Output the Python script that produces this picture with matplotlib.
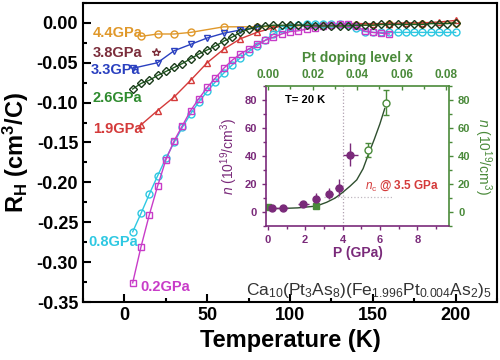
import matplotlib
matplotlib.use('Agg')
import matplotlib.pyplot as plt
from matplotlib.ticker import MultipleLocator, FormatStrFormatter

plt.rcParams['font.family'] = ['Liberation Sans', 'DejaVu Sans']
plt.rcParams['axes.unicode_minus'] = False
plt.rcParams['mathtext.fontset'] = 'custom'
plt.rcParams['mathtext.rm'] = 'Liberation Sans'
plt.rcParams['mathtext.it'] = 'Liberation Sans:italic'
plt.rcParams['mathtext.bf'] = 'Liberation Sans:bold'

# ---------------- main panel data: R_H (cm^3/C) vs T (K)
t_02 = [5, 10, 15, 20, 25, 30, 35, 40, 45, 50, 55, 60, 65, 70, 75, 80, 85, 90, 95, 100,
        105, 110, 115, 120, 125, 130, 135, 140, 145, 150, 155, 160]
r_02 = [-0.326, -0.281, -0.241, -0.205, -0.172, -0.148, -0.129, -0.110, -0.095, -0.081,
        -0.069, -0.057, -0.047, -0.039, -0.033, -0.027, -0.022, -0.018, -0.014, -0.011,
        -0.010, -0.008, -0.006, -0.004, -0.003, -0.002, -0.002, -0.004, -0.010, -0.012,
        -0.013, -0.014]

t_08 = [5, 10, 15, 20, 25, 30, 35, 40, 45, 50, 55, 60, 65, 70, 75, 80, 85, 90, 95, 100,
        105, 110, 115, 120, 125, 130, 135, 140, 145, 150, 155, 160, 165, 170, 175, 180,
        185, 190, 195, 200]
r_08 = [-0.262, -0.239, -0.215, -0.192, -0.170, -0.150, -0.131, -0.114, -0.099, -0.086,
        -0.074, -0.063, -0.053, -0.044, -0.036, -0.029, -0.022, -0.014, -0.008, -0.005,
        -0.003, -0.002, -0.001, -0.001, -0.001, -0.001, -0.003, -0.007, -0.011, -0.012,
        -0.012, -0.012, -0.012, -0.012, -0.012, -0.012, -0.012, -0.012, -0.012, -0.012]

t_19 = [10, 20, 30, 40, 50, 60, 70, 80, 90, 100, 110, 120, 130, 140, 150, 160, 170, 180, 190, 200]
r_19 = [-0.128, -0.110, -0.093, -0.072, -0.050, -0.033, -0.020, -0.012, -0.006, -0.003,
        -0.002, -0.001, -0.001, -0.001, -0.001, -0.001, 0.000, 0.000, 0.001, 0.003]

t_26 = t_08
r_26 = [-0.083, -0.076, -0.072, -0.066, -0.061, -0.056, -0.051, -0.045, -0.039, -0.034,
        -0.029, -0.023, -0.018, -0.012, -0.008, -0.005, -0.004, -0.003, -0.003, -0.003,
        -0.003, -0.003, -0.004, -0.004, -0.004, -0.004, -0.004, -0.003, -0.003, -0.003,
        -0.002, -0.002, -0.002, -0.002, -0.002, -0.002, -0.001, -0.001, -0.001, 0.000]

t_33 = [5, 20, 30, 40, 50, 60, 70, 80]
r_33 = [-0.057, -0.050, -0.035, -0.027, -0.019, -0.013, -0.009, -0.006]

t_38 = [19]
r_38 = [-0.036]

t_44 = [10, 20, 30, 40, 60, 80, 100, 120, 140, 160, 180, 200]
r_44 = [-0.017, -0.014, -0.014, -0.012, -0.005, -0.005, -0.004, -0.003, -0.003, -0.002,
        -0.001, 0.000]

# ---------------- inset data: carrier density n at T = 20 K
p_pur = [0.2, 0.8, 1.9, 2.6, 3.3, 3.8, 4.4]
n_pur = [3, 3, 5.5, 9.5, 13, 17.5, 41]
n_pur_err = [1.5, 1.5, 2, 4, 4, 6, 8]
p_pur_err = [0.3, 0.3, 0.3, 0.2, 0.2, 0.2, 0.4]

p_sq = [0, 2.6]
n_sq = [3.5, 4.5]

p_open = [5.35, 6.35]
n_open = [44, 78]
n_open_err = [5, 9]

p_fit = [0, 0.8, 1.6, 2.6, 3.15, 3.6, 4.0, 4.4, 4.76, 5.1, 5.35, 5.7, 6.0, 6.26]
n_fit = [2.5, 2.6, 3.0, 4.3, 7, 10, 14, 18.5, 23, 31, 40, 52, 63, 74]

c_or, c_br, c_bl, c_gr = '#e0982a', '#7b2d3b', '#2a40c0', '#2e8b2e'
c_rd, c_cy, c_mg = '#d43a3a', '#2ec8e2', '#c83cc8'
c_pu, c_ig = '#7a2a7a', '#4a8a3a'

fig = plt.figure(figsize=(5, 3.6), dpi=100)
ax = fig.add_axes([0.166, 0.161, 0.828, 0.831])

mk = dict(mfc='none', ms=5, mew=1.0, lw=1.0)
ax.plot(t_44, r_44, 'o-', color=c_or, **mk)
ax.plot(t_33, r_33, 'v-', color=c_bl, **mk)
ax.plot(t_19, r_19, '^-', color=c_rd, **mk)
ax.plot(t_08, r_08, 'o-', color=c_cy, **mk)
ax.plot(t_02, r_02, 's-', color=c_mg, **mk)
ax.plot(t_26, r_26, 'D-', color='#1f5f1f', mec='#1a3a1a', mfc='none', ms=4.5, mew=1.0, lw=1.0)
ax.plot(t_38, r_38, '*', color=c_br, mfc='none', ms=6, mew=1.0)

lab = dict(fontsize=10.5, fontweight='bold', va='center')
ax.text(-19, -0.0125, '4.4GPa', color=c_or, **lab)
ax.text(-19, -0.0375, '3.8GPa', color=c_br, **lab)
ax.text(-20.5, -0.059, '3.3GPa', color=c_bl, **lab)
ax.text(-19, -0.094, '2.6GPa', color=c_gr, **lab)
ax.text(-19, -0.1325, '1.9GPa', color=c_rd, **lab)
ax.text(-22, -0.275, '0.8GPa', color=c_cy, **lab)
ax.text(9.5, -0.331, '0.2GPa', color=c_mg, **lab)

ax.text(222, -0.335,
        r'Ca$_{10}$(Pt$_3$As$_8$)(Fe$_{1.996}$Pt$_{0.004}$As$_2$)$_5$',
        fontsize=12.5, color='#333333', ha='right', va='center')

ax.set_xlim(-25, 225)
ax.set_ylim(-0.35, 0.025)
ax.xaxis.set_major_locator(MultipleLocator(50))
ax.xaxis.set_minor_locator(MultipleLocator(25))
ax.yaxis.set_major_locator(MultipleLocator(0.05))
ax.yaxis.set_minor_locator(MultipleLocator(0.025))
ax.yaxis.set_major_formatter(FormatStrFormatter('%.2f'))
ax.tick_params(which='both', direction='in', width=1.5, labelsize=13)
ax.tick_params(which='major', length=6)
ax.tick_params(which='minor', length=3)
for lbl in ax.get_xticklabels() + ax.get_yticklabels():
    lbl.set_fontweight('bold')
for s in ax.spines.values():
    s.set_linewidth(1.5)
ax.set_xlabel('Temperature (K)', fontsize=17, fontweight='bold', labelpad=4)
ax.set_ylabel(r'R$_\mathbf{H}$ (cm$^\mathbf{3}$/C)', fontsize=17, fontweight='bold', labelpad=4)

# ---------------- inset
axi = fig.add_axes([0.532, 0.372, 0.366, 0.389])
axi.axvline(4.0, color='#b0a0b0', ls=':', lw=0.9)
axi.plot([3.0, 6.7], [11, 11], color='#c0b8c0', ls=':', lw=0.9)
axi.plot(p_fit, n_fit, '-', color='#2f4f2f', lw=1.0)
axi.errorbar(p_pur, n_pur, yerr=n_pur_err, xerr=p_pur_err, fmt='o', color=c_pu,
             ms=5, elinewidth=1.0, capsize=0)
axi.plot(p_sq, n_sq, 's', color=c_ig, ms=4.5)
axi.errorbar(p_open, n_open, yerr=n_open_err, fmt='o', color=c_ig, mfc='white',
             ms=5, elinewidth=1.0, capsize=2)
axi.set_xlim(-0.1, 9.7)
axi.set_ylim(-10, 90)
axi.xaxis.set_major_locator(MultipleLocator(2))
axi.xaxis.set_minor_locator(MultipleLocator(1))
axi.yaxis.set_major_locator(MultipleLocator(20))
axi.yaxis.set_minor_locator(MultipleLocator(10))
axi.tick_params(which='both', labelsize=8, colors=c_pu, width=1.0)
axi.tick_params(which='major', length=3)
axi.tick_params(which='minor', length=2)
for lbl in axi.get_xticklabels() + axi.get_yticklabels():
    lbl.set_fontweight('bold')
axi.set_xlabel('P (GPa)', fontsize=10, fontweight='bold', color=c_pu, labelpad=1)
axi.set_ylabel(r'$\mathit{n}$ (10$^{19}$/cm$^3$)', fontsize=10, color=c_pu, labelpad=3)
axi.spines['left'].set_color(c_pu)
axi.spines['bottom'].set_color(c_pu)
axi.spines['right'].set_color(c_ig)
axi.spines['top'].set_color(c_ig)
for s in axi.spines.values():
    s.set_linewidth(1.2)
axi.text(0.9, 80, 'T= 20 K', fontsize=8, fontweight='bold', va='center')
axi.text(5.2, 18.5, r'$\mathit{n}_\mathrm{c}$ @ 3.5 GPa', fontsize=8.5, color=c_rd,
         fontweight='bold', va='center')

axr = axi.twinx()
axr.set_ylim(-10, 90)
axr.yaxis.set_major_locator(MultipleLocator(20))
axr.yaxis.set_minor_locator(MultipleLocator(10))
axr.tick_params(which='both', labelsize=8, colors=c_ig, width=1.0)
axr.tick_params(which='major', length=3)
axr.tick_params(which='minor', length=2)
for lbl in axr.get_yticklabels():
    lbl.set_fontweight('bold')
axr.set_ylabel(r'$\mathit{n}$ (10$^{19}$/cm$^3$)', fontsize=10, color=c_ig,
               rotation=270, va='bottom', labelpad=1)
for s in axr.spines.values():
    s.set_visible(False)

axt = axi.twiny()
axt.set_xlim(-0.0009, 0.0813)
axt.xaxis.set_major_locator(MultipleLocator(0.02))
axt.xaxis.set_minor_locator(MultipleLocator(0.01))
axt.xaxis.set_major_formatter(FormatStrFormatter('%.2f'))
axt.tick_params(which='both', direction='in', labelsize=8.5, colors=c_ig, width=1.0)
axt.tick_params(which='major', length=3)
axt.tick_params(which='minor', length=2)
for lbl in axt.get_xticklabels():
    lbl.set_fontweight('bold')
axt.set_xlabel('Pt doping level x', fontsize=10, fontweight='bold', color=c_ig, labelpad=5)
for s in axt.spines.values():
    s.set_visible(False)

fig.savefig('out.png', dpi=100)
